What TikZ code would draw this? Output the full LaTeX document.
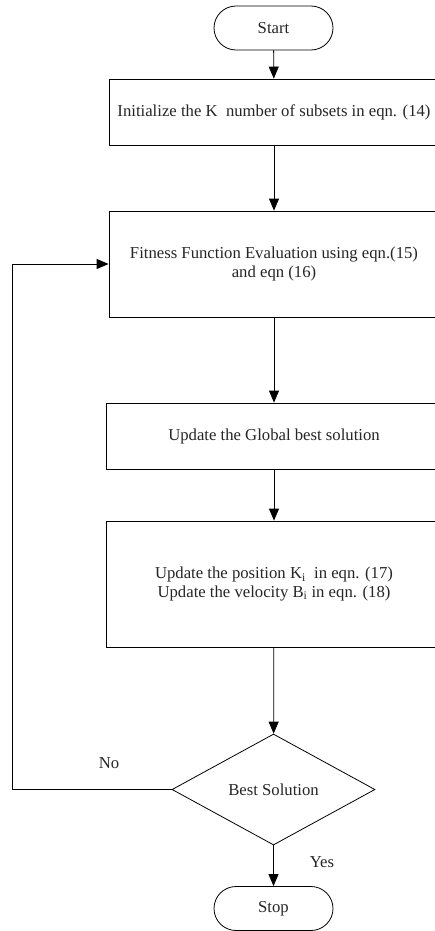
\documentclass[tikz,border=0pt]{standalone}
\usepackage{fontspec}
\setmainfont{Liberation Serif}
\usetikzlibrary{shapes.geometric,arrows.meta}
\begin{document}
\begin{tikzpicture}[x=1pt,y=-1pt,
  every node/.style={font=\fontsize{16.7}{18.5}\selectfont, text=black!85},
  term/.style={draw, line width=0.8pt, rounded corners=22pt, minimum width=119pt, minimum height=44pt, inner sep=0pt},
  procbox/.style={draw, line width=0.8pt, inner sep=0pt, align=center},
  decision/.style={draw, line width=0.8pt, diamond, aspect=1.83, minimum width=203pt, minimum height=111pt, inner sep=0pt},
  flow/.style={line width=0.8pt, -{Triangle[length=12pt,width=10pt]}},
  plain/.style={line width=0.8pt}
]
\useasboundingbox (0,0) rectangle (435,931);
\fill[white] (0,0) rectangle (435,931);
\node[term] (start) at (273.5,28) {Start};
\node[procbox, minimum width=330pt, minimum height=66pt] (init) at (274,112) {Initialize the K\ \ number of subsets in eqn. (14)};
\node[procbox, minimum width=330pt, minimum height=106pt] (fit) at (274,264) {Fitness Function Evaluation using eqn.(15)\\and eqn (16)};
\node[procbox, minimum width=336pt, minimum height=66pt] (glob) at (274,436) {Update the Global best solution};
\node[procbox, minimum width=336pt, minimum height=126pt] (upd) at (274,584) {Update the position K\textsubscript{i}\ \ in eqn. (17)\\Update the velocity B\textsubscript{i} in eqn. (18)};
\node[decision] (best) at (273.5,789.5) {Best Solution};
\node[term] (stop) at (273.5,908.5) {Stop};
\coordinate (lc) at (12,789.5);
\coordinate (lt) at (12,264);
\draw[flow] (start) -- (init);
\draw[flow] (init) -- (fit);
\draw[flow] (fit) -- (glob);
\draw[flow] (glob) -- (upd);
\draw[flow] (upd) -- (best);
\draw[flow] (best) -- (stop);
\draw[plain] (best.west) -- (lc) -- (lt);
\draw[flow] (lt) -- (fit.west);
\node (no) at (109,763) {No};
\node (yes) at (322,862) {Yes};
\end{tikzpicture}
\end{document}
